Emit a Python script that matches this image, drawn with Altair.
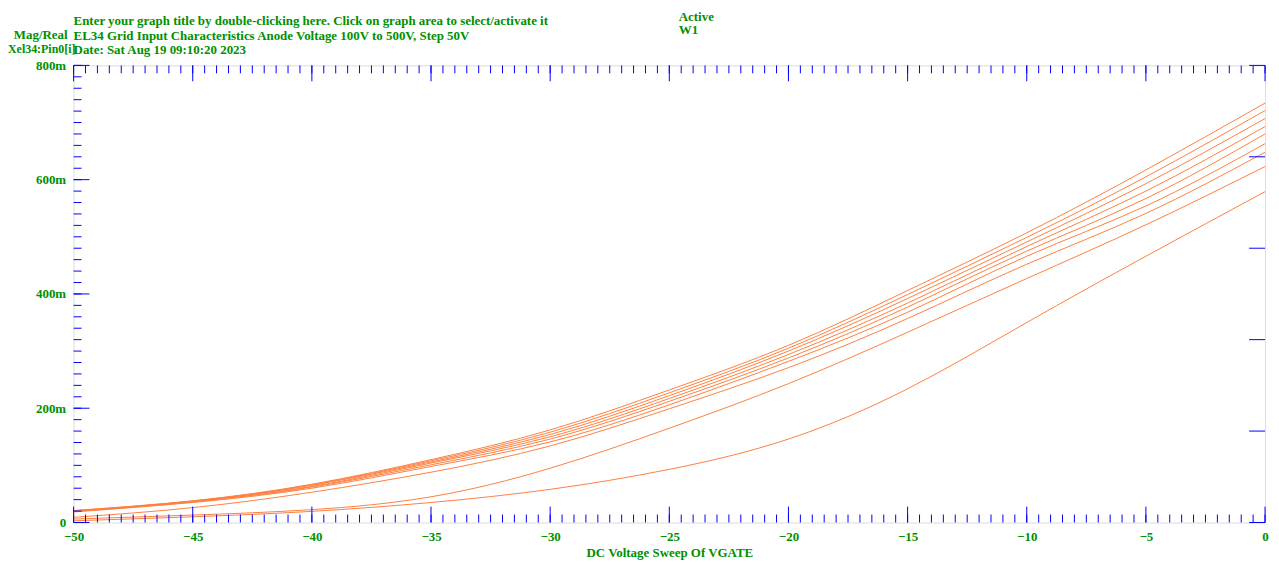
import altair as alt
import pandas as pd

# ---- data ----
vgate = [-50, -45, -40, -35, -30, -25, -20, -15, -10, -5, 0]
anode = [500, 450, 400, 350, 300, 250, 200, 150, 100]
i_500 = [21, 38, 67, 110, 162, 232, 310, 406, 507, 617, 734]
i_450 = [20.5, 37.5, 66, 108, 158, 227, 305, 399, 499, 605, 721]
i_400 = [20, 37, 65, 106, 154, 222, 300, 392, 491, 593, 707]
i_350 = [19.5, 36.5, 63, 104, 150, 217, 294, 384, 483, 580, 693]
i_300 = [19, 36, 62, 101, 146, 212, 288, 377, 475, 567, 680]
i_250 = [18.5, 35, 60, 98, 141, 206, 282, 368, 466, 554, 663]
i_200 = [9, 26, 53, 88, 134, 199, 271, 357, 452, 541, 648]
i_150 = [6, 13, 22.5, 45, 95, 165, 243, 333, 427, 521, 623]
i_100 = [3, 10, 19.5, 35, 58, 93, 146, 234, 350, 466, 579]
series = [i_500, i_450, i_400, i_350, i_300, i_250, i_200, i_150, i_100]

x_major = [-50, -45, -40, -35, -30, -25, -20, -15, -10, -5, 0]
x_minor = [-50 + 0.5 * k for k in range(101)]
y_major = [0, 200, 400, 600, 800]
y_minor = [20 * k for k in range(41)]
y_right = [0, 160, 320, 480, 640, 800]

title1 = "Enter your graph title by double-clicking here. Click on graph area to select/activate it"
title2 = "EL34 Grid Input Characteristics Anode Voltage 100V to 500V, Step 50V"
title3 = "Date: Sat Aug 19 09:10:20  2023"
ylab1 = "Mag/Real"
ylab2 = "Xel34:Pin0[i]"
act1 = "Active"
act2 = "W1"
xtitle = "DC Voltage Sweep Of VGATE"

# ---- styling ----
W, H = 1199, 460
GREEN = "#009000"
BLUE = "#0000ff"
LINE = "#ff7f40"
FONT = "Liberation Serif"
FS = 13

rows = []
for va, vals in zip(anode, series):
    for xv, yv in zip(vgate, vals):
        rows.append({"vgate": xv, "current": yv, "anode": va})
df = pd.DataFrame(rows)

xs = alt.Scale(domain=[-50, 0], nice=False, zero=False)
ys = alt.Scale(domain=[0, 800], nice=False, zero=False)

XAX = alt.Axis(
    values=x_major, format="d", tickSize=0, domain=False, grid=False,
    labelFont=FONT, labelFontWeight="bold", labelFontSize=FS, labelColor=GREEN,
    labelPadding=8, labelFlush=False, title=xtitle, titleFont=FONT,
    titleFontWeight="bold", titleFontSize=FS, titleColor=GREEN, titlePadding=3)
YAX = alt.Axis(
    values=y_major, labelExpr="datum.value == 0 ? '0' : datum.value + 'm'",
    tickSize=0, domain=False, grid=False, labelFont=FONT, labelFontWeight="bold",
    labelFontSize=FS, labelColor=GREEN, labelPadding=8, labelFlush=False, title=None)

lines = alt.Chart(df).mark_line(
    interpolate="natural", strokeWidth=1, color=LINE
).encode(
    x=alt.X("vgate:Q", scale=xs, axis=XAX, title=xtitle),
    y=alt.Y("current:Q", scale=ys, axis=YAX, title=None),
    detail="anode:N",
)


def xticks(vals, y0, y1):
    return alt.Chart(pd.DataFrame({"t": vals})).mark_rule(color=BLUE, strokeWidth=1).encode(
        x=alt.X("t:Q", scale=xs, axis=XAX, title=xtitle), y=alt.value(y0), y2=alt.value(y1))


def yticks(vals, x0, x1):
    return alt.Chart(pd.DataFrame({"t": vals})).mark_rule(color=BLUE, strokeWidth=1).encode(
        y=alt.Y("t:Q", scale=ys, axis=YAX, title=None), x=alt.value(x0), x2=alt.value(x1))


def label(text, x, y, align="left", size=FS):
    return alt.Chart(pd.DataFrame({"t": [text]})).mark_text(
        align=align, baseline="middle", font=FONT, fontWeight="bold", fontSize=size, color=GREEN
    ).encode(x=alt.value(x), y=alt.value(y), text="t:N")


layers = [
    lines,
    xticks(x_minor, H, H - 8), xticks(x_major, H, H - 16),
    xticks(x_minor, 0, 8), xticks(x_major, 0, 16),
    yticks(y_minor, 0, 8), yticks(y_major, 0, 16),
    yticks(y_right, W, W - 16),
    label(title1, 0, -45), label(title2, 0, -30), label(title3, 0, -15),
    label(ylab1, -6, -31, align="right"), label(ylab2, -66, -16, size=12),
    label(act1, 609, -49), label(act2, 609, -36),
]

chart = alt.layer(*layers).properties(
    width=W, height=H,
    padding={"left": 66, "top": 56, "right": 6, "bottom": 38},
    autosize=alt.AutoSizeParams(type="none"),
).configure_view(stroke=BLUE, strokeWidth=1).configure(background="white")

chart.save("out.html", embed_options={"renderer": "svg", "actions": False})
